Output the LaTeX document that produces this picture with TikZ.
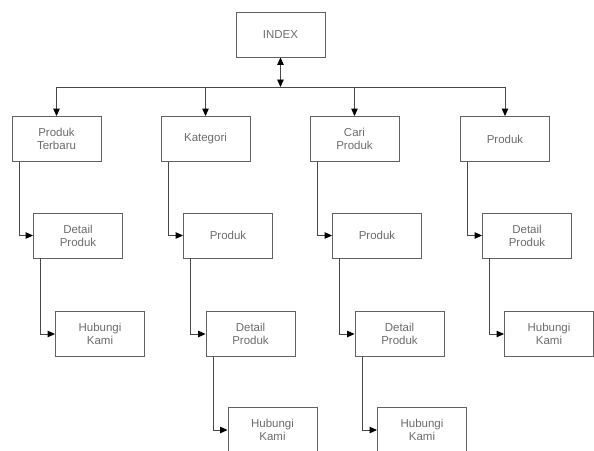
\documentclass[tikz,border=0pt]{standalone}
\usepackage{fontspec}
\setmainfont{Liberation Sans}
\usetikzlibrary{arrows.meta}

\tikzset{
  page/.style={x=1pt,y=-1pt},
  pagebox/.style={draw=black!62, line width=0.9pt, minimum width=89pt,
    minimum height=45pt, inner sep=0pt, align=center, text=black!58,
    font=\fontsize{11.5}{13}\selectfont},
  conn/.style={draw=black!72, line width=0.9pt},
  tip/.style={-{Triangle[length=7.5pt,width=6.5pt,color=black]}},
  bothtips/.style={{Triangle[length=7.5pt,width=6.5pt,color=black]}-{Triangle[length=7.5pt,width=6.5pt,color=black]}}
}

\begin{document}
\begin{tikzpicture}[page]
  \useasboundingbox (0,0) rectangle (594,450);
  \clip (0,0) rectangle (594,450);

  % home page
  \node[pagebox] (index) at (280.5,34.5) {INDEX};
  \coordinate (bus) at (280.5,87);

  % first level
  \node[pagebox] (t1) at (56.5,139)  {Produk\\Terbaru};
  \node[pagebox] (t2) at (205.5,139) {Kategori};
  \node[pagebox] (t3) at (354.5,139) {Cari\\Produk};
  \node[pagebox] (t4) at (505,139)   {Produk};

  % second level
  \node[pagebox] (s1) at (78,235.5)  {Detail\\Produk};
  \node[pagebox] (s2) at (228,235.5) {Produk};
  \node[pagebox] (s3) at (377,235.5) {Produk};
  \node[pagebox] (s4) at (527,235.5) {Detail\\Produk};

  % third level
  \node[pagebox] (r1) at (100,334)   {Hubungi\\Kami};
  \node[pagebox] (r2) at (250.5,334) {Detail\\Produk};
  \node[pagebox] (r3) at (399.5,334) {Detail\\Produk};
  \node[pagebox] (r4) at (549,334)   {Hubungi\\Kami};

  % fourth level
  \node[pagebox] (q2) at (272.5,430) {Hubungi\\Kami};
  \node[pagebox] (q3) at (422,430)   {Hubungi\\Kami};

  % index <-> navigation bus
  \draw[conn, bothtips] (index.south) -- (bus);
  \draw[conn] (t1.north |- bus) -- (t4.north |- bus);
  \foreach \n in {t1,t2,t3,t4}
    \draw[conn, tip] (\n.north |- bus) -- (\n.north);

  % elbow links down each column
  \foreach \a/\b in {t1/s1, t2/s2, t3/s3, t4/s4,
                     s1/r1, s2/r2, s3/r3, s4/r4,
                     r2/q2, r3/q3}
    \draw[conn, tip] ([xshift=7.5pt]\a.south west) |- (\b.west);
\end{tikzpicture}
\end{document}
